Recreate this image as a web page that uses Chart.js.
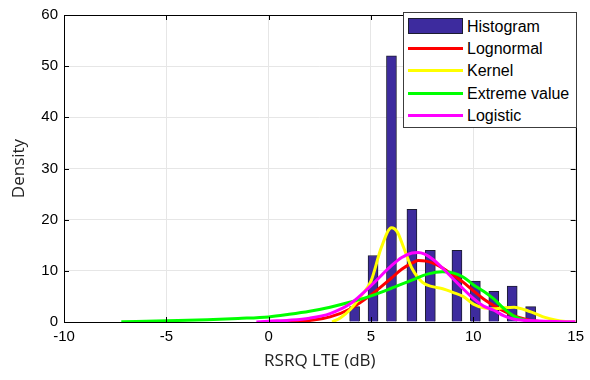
<!DOCTYPE html>
<html lang="en">
<head>
    <meta charset="UTF-8">
    <title>RSRQ LTE density</title>
    <script src="https://cdn.jsdelivr.net/npm/chart.js"></script>
    <style>
        body { margin: 0; background: #fff; }
        .tudo { position: relative; width: 590px; height: 380px; }
        .legenda {
            position: absolute; left: 403px; top: 12px; width: 172px; height: 114px;
            border: 1px solid #3c3c3c; background: #fff;
            font-family: "Liberation Sans", Arial, sans-serif; font-size: 16px; color: #000;
        }
        .item { position: absolute; left: 4px; height: 22px; width: 168px; }
        .amostra { position: absolute; left: 0; width: 55px; }
        .texto { position: absolute; left: 59px; top: 1px; line-height: 19px; white-space: nowrap; }
    </style>
</head>
<body>
    <div class="tudo">
        <canvas id="grafico" width="590" height="380"></canvas>
        <div class="legenda" id="legenda"></div>
    </div>
<script>
// histograma (centro da barra, densidade)
const histX = [4.2, 5.1, 6.0, 7.0, 7.9, 9.2, 10.1, 11.0, 11.9, 12.8];
const histY = [3, 13, 52, 22, 14, 14, 8, 6, 7, 3];

// curvas ajustadas
const lognX = [0.8, 1.5, 2, 3, 4, 5, 6, 6.5, 7, 7.3, 7.7, 8.2, 9, 9.5, 10, 10.5, 11, 11.5, 12, 12.5, 13, 13.5];
const lognY = [0, 0.1, 0.3, 1.0, 2.6, 5.3, 8.6, 10.3, 11.5, 12, 11.9, 11.2, 9.2, 7.8, 6.1, 4.5, 3.2, 2.1, 1.2, 0.6, 0.2, 0];

const kernX = [3.1, 3.5, 4.0, 4.5, 5.0, 5.5, 6.0, 6.3, 6.6, 7.0, 7.5, 8.0, 8.5, 9.0, 9.5, 10.0, 10.5, 11.0, 11.5, 12.0, 12.5, 13.0, 13.5, 14.0, 14.5, 15.0];
const kernY = [0, 0.8, 2.5, 5, 8, 14.5, 18.4, 17.5, 14.5, 10.5, 7.8, 6.9, 6.5, 5.8, 5, 3.5, 2.8, 2.6, 2.8, 2.9, 2.4, 1.7, 0.9, 0.4, 0.1, 0];

const evX = [-7.2, -5, -3, -1.5, 0, 1, 2, 3, 4, 5, 6, 7, 7.8, 8.5, 9, 9.5, 10, 10.5, 11, 11.5, 12, 12.5, 13, 13.5];
const evY = [0.05, 0.25, 0.45, 0.7, 1.0, 1.5, 2.1, 2.9, 3.9, 5.1, 6.6, 8.2, 9.4, 9.8, 9.6, 8.8, 7.3, 6.0, 4.5, 2.6, 1.1, 0.4, 0.1, 0];

const logiX = [-0.6, 0, 1, 2, 3, 4, 5, 6, 6.5, 7, 7.3, 7.6, 8, 8.5, 9, 9.5, 10, 10.5, 11, 11.5, 12, 13, 14, 15];
const logiY = [0, 0.15, 0.35, 0.75, 1.65, 3.6, 7.1, 11.0, 12.6, 13.5, 13.6, 13.3, 12.3, 10.5, 8.5, 6.5, 4.6, 3.1, 2.3, 1.2, 0.55, 0.25, 0.1, 0.05];

const xTicks = [-10, -5, 0, 5, 10, 15];
const yTicks = [0, 10, 20, 30, 40, 50, 60];

const nomes = ['Histogram', 'Lognormal', 'Kernel', 'Extreme value', 'Logistic'];
const cores = ['rgb(61,43,158)', '#ff0000', '#ffff00', '#00ff00', '#ff00ff'];

function pontos(xs, ys) {
    let p = [];
    for (let i = 0; i < xs.length; i++) {
        p.push({ x: xs[i], y: ys[i] });
    }
    return p;
}

function curva(nome, cor, xs, ys, ordem) {
    return {
        type: 'line',
        label: nome,
        data: pontos(xs, ys),
        borderColor: cor,
        borderWidth: 3,
        pointRadius: 0,
        fill: false,
        cubicInterpolationMode: 'monotone',
        order: ordem
    };
}

// caixa e marcas de escala para dentro (estilo MATLAB)
const caixa = {
    id: 'caixa',
    afterDatasetsDraw(chart) {
        const ctx = chart.ctx;
        const a = chart.chartArea;
        const sx = chart.scales.x, sy = chart.scales.y;
        ctx.save();
        ctx.strokeStyle = '#000';
        ctx.lineWidth = 1;
        ctx.beginPath();
        xTicks.forEach(function (t) {
            const px = Math.round(sx.getPixelForValue(t)) + 0.5;
            ctx.moveTo(px, a.bottom); ctx.lineTo(px, a.bottom - 5);
            ctx.moveTo(px, a.top); ctx.lineTo(px, a.top + 5);
        });
        yTicks.forEach(function (t) {
            const py = Math.round(sy.getPixelForValue(t)) + 0.5;
            ctx.moveTo(a.left, py); ctx.lineTo(a.left + 5, py);
            ctx.moveTo(a.right, py); ctx.lineTo(a.right - 5, py);
        });
        ctx.stroke();
        ctx.strokeRect(Math.round(a.left) + 0.5, Math.round(a.top) + 0.5, Math.round(a.right - a.left), Math.round(a.bottom - a.top));
        ctx.restore();
    }
};

const config = {
    type: 'bar',
    data: {
        datasets: [
            {
                type: 'bar',
                label: nomes[0],
                data: pontos(histX, histY),
                backgroundColor: cores[0],
                borderColor: '#1c1c30',
                borderWidth: 1,
                barThickness: 10,
                order: 5
            },
            curva(nomes[1], cores[1], lognX, lognY, 4),
            curva(nomes[2], cores[2], kernX, kernY, 3),
            curva(nomes[3], cores[3], evX, evY, 2),
            curva(nomes[4], cores[4], logiX, logiY, 1)
        ]
    },
    options: {
        responsive: false,
        animation: false,
        layout: { padding: { top: 12, right: 14, left: 0, bottom: 0 } },
        plugins: { legend: { display: false }, tooltip: { enabled: false } },
        scales: {
            x: {
                type: 'linear',
                min: -10, max: 15,
                offset: false,
                afterBuildTicks: function (s) { s.ticks = xTicks.map(v => ({ value: v })); },
                afterFit: function (s) { s.height = 58; },
                grid: { color: '#e6e6e6', drawTicks: false, offset: false },
                border: { display: false },
                ticks: { padding: 6, color: '#000', font: { family: 'Liberation Sans', size: 15 } },
                title: {
                    display: true, text: 'RSRQ LTE (dB)', color: '#222',
                    font: { family: 'Open Sans', size: 17 }, padding: { top: 0, bottom: 9 }
                }
            },
            y: {
                min: 0, max: 60,
                afterBuildTicks: function (s) { s.ticks = yTicks.map(v => ({ value: v })); },
                afterFit: function (s) { s.width = 64; },
                grid: { color: '#e6e6e6', drawTicks: false },
                border: { display: false },
                ticks: { padding: 6, color: '#000', font: { family: 'Liberation Sans', size: 15 } },
                title: {
                    display: true, text: 'Density', color: '#222',
                    font: { family: 'Open Sans', size: 17 }, padding: { top: 9, bottom: 0 }
                }
            }
        }
    },
    plugins: [caixa]
};

let grafico = new Chart(document.getElementById('grafico'), config);

// legenda em html dentro da area do grafico
const legenda = document.getElementById('legenda');
for (let i = 0; i < nomes.length; i++) {
    const item = document.createElement('div');
    item.className = 'item';
    item.style.top = (3 + i * 22.2) + 'px';
    const amostra = document.createElement('div');
    amostra.className = 'amostra';
    if (i == 0) {
        amostra.style.top = '2px';
        amostra.style.height = '14px';
        amostra.style.background = cores[0];
        amostra.style.border = '1px solid #1c1c30';
        amostra.style.width = '53px';
    } else {
        amostra.style.top = '9px';
        amostra.style.height = '3px';
        amostra.style.background = cores[i];
    }
    const texto = document.createElement('div');
    texto.className = 'texto';
    texto.textContent = nomes[i];
    item.appendChild(amostra);
    item.appendChild(texto);
    legenda.appendChild(item);
}
</script>
</body>
</html>
